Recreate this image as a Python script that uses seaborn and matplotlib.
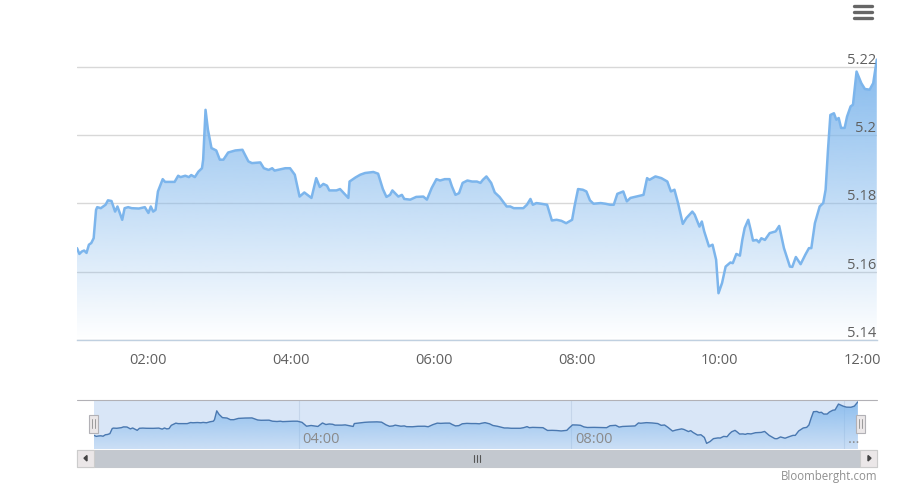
import numpy as np
import pandas as pd
import matplotlib
matplotlib.use("Agg")
import matplotlib.pyplot as plt
import matplotlib.transforms as mtransforms
from matplotlib.patches import Rectangle, Polygon
import seaborn as sns

# intraday quotes (time, price)
times = ["01:00", "01:02", "01:04", "01:06", "01:08", "01:10", "01:12", "01:14", "01:16", "01:17",
         "01:20", "01:24", "01:26", "01:29", "01:32", "01:34", "01:38", "01:40", "01:43", "01:46",
         "01:52", "01:57", "02:00", "02:02", "02:04", "02:06", "02:08", "02:12", "02:14", "02:22",
         "02:25", "02:27", "02:31", "02:34", "02:36", "02:39", "02:42", "02:45", "02:46", "02:48",
         "02:50", "02:53", "02:57", "03:00", "03:03", "03:07", "03:13", "03:19", "03:24", "03:27",
         "03:34", "03:37", "03:41", "03:44", "03:46", "03:51", "03:55", "03:59", "04:03", "04:07",
         "04:11", "04:17", "04:21", "04:24", "04:27", "04:30", "04:32", "04:38", "04:41", "04:48",
         "04:49", "04:54", "04:58", "05:02", "05:09", "05:13", "05:17", "05:20", "05:23", "05:25",
         "05:30", "05:33", "05:35", "05:40", "05:45", "05:51", "05:54", "05:58", "06:02", "06:05",
         "06:09", "06:13", "06:15", "06:18", "06:21", "06:24", "06:28", "06:32", "06:36", "06:39",
         "06:41", "06:44", "06:48", "06:51", "06:55", "07:01", "07:04", "07:07", "07:15", "07:18",
         "07:21", "07:23", "07:26", "07:30", "07:35", "07:39", "07:43", "07:47", "07:51", "07:56",
         "07:58", "08:01", "08:05", "08:08", "08:11", "08:14", "08:20", "08:24", "08:28", "08:31",
         "08:34", "08:39", "08:42", "08:45", "08:50", "08:56", "08:59", "09:01", "09:06", "09:11",
         "09:16", "09:19", "09:22", "09:25", "09:29", "09:32", "09:37", "09:39", "09:43", "09:45",
         "09:47", "09:51", "09:54", "09:57", "09:59", "10:02", "10:05", "10:09", "10:11", "10:14",
         "10:17", "10:19", "10:21", "10:24", "10:26", "10:28", "10:31", "10:33", "10:35", "10:38",
         "10:42", "10:47", "10:50", "10:54", "10:59", "11:01", "11:04", "11:08", "11:12", "11:15",
         "11:17", "11:20", "11:24", "11:27", "11:29", "11:31", "11:33", "11:36", "11:38", "11:40",
         "11:42", "11:45", "11:47", "11:50", "11:52", "11:55", "11:59", "12:02", "12:06", "12:09",
         "12:12"]
prices = [5.1669, 5.1652, 5.1659, 5.1662, 5.1655, 5.1679, 5.1684, 5.1698, 5.1781, 5.1789,
          5.1786, 5.1796, 5.1809, 5.1807, 5.1776, 5.1791, 5.1752, 5.1786, 5.1789, 5.1786,
          5.1785, 5.1789, 5.1772, 5.1791, 5.1776, 5.1781, 5.1835, 5.1871, 5.1863, 5.1863,
          5.1881, 5.1877, 5.1881, 5.1877, 5.1883, 5.1877, 5.1893, 5.1903, 5.1928, 5.2074,
          5.2016, 5.1962, 5.1955, 5.1928, 5.1928, 5.1949, 5.1955, 5.1957, 5.1923, 5.1918,
          5.1920, 5.1903, 5.1898, 5.1903, 5.1896, 5.1900, 5.1903, 5.1903, 5.1884, 5.1820,
          5.1832, 5.1816, 5.1874, 5.1848, 5.1857, 5.1852, 5.1838, 5.1838, 5.1842, 5.1816,
          5.1864, 5.1876, 5.1884, 5.1889, 5.1892, 5.1887, 5.1842, 5.1819, 5.1825, 5.1838,
          5.1820, 5.1825, 5.1813, 5.1811, 5.1819, 5.1820, 5.1811, 5.1845, 5.1871, 5.1867,
          5.1871, 5.1871, 5.1850, 5.1825, 5.1830, 5.1860, 5.1867, 5.1864, 5.1864, 5.1860,
          5.1869, 5.1879, 5.1860, 5.1832, 5.1819, 5.1791, 5.1791, 5.1786, 5.1786, 5.1796,
          5.1813, 5.1796, 5.1801, 5.1799, 5.1796, 5.1750, 5.1752, 5.1749, 5.1742, 5.1752,
          5.1791, 5.1842, 5.1840, 5.1835, 5.1809, 5.1799, 5.1801, 5.1799, 5.1796, 5.1796,
          5.1828, 5.1835, 5.1806, 5.1816, 5.1820, 5.1825, 5.1874, 5.1869, 5.1879, 5.1874,
          5.1864, 5.1835, 5.1840, 5.1801, 5.1740, 5.1757, 5.1776, 5.1767, 5.1732, 5.1747,
          5.1718, 5.1674, 5.1679, 5.1635, 5.1537, 5.1567, 5.1615, 5.1627, 5.1625, 5.1652,
          5.1647, 5.1693, 5.1728, 5.1752, 5.1723, 5.1691, 5.1693, 5.1686, 5.1698, 5.1693,
          5.1713, 5.1718, 5.1734, 5.1669, 5.1615, 5.1614, 5.1643, 5.1622, 5.1650, 5.1669,
          5.1669, 5.1742, 5.1791, 5.1801, 5.1840, 5.1957, 5.2059, 5.2064, 5.2045, 5.2050,
          5.2021, 5.2021, 5.2054, 5.2084, 5.2089, 5.2186, 5.2152, 5.2135, 5.2133, 5.2152,
          5.2221]

y_ticks = [5.14, 5.16, 5.18, 5.20, 5.22]
x_ticks = ["02:00", "04:00", "06:00", "08:00", "10:00", "12:00"]
nav_ticks = ["04:00", "08:00", "12:00"]
nav_labels = ["04:00", "08:00", "\u2026"]


def to_hours(s):
    h, m = s.split(":")
    return int(h) + int(m) / 60


df = pd.DataFrame({"hour": [to_hours(t) for t in times], "price": prices})

sns.set_style("white")
plt.rcParams["font.family"] = ["Open Sans", "DejaVu Sans"]

W, H = 898, 494
fig = plt.figure(figsize=(W / 100, H / 100), dpi=100)


def px_axes(x0, y0, x1, y1):
    return fig.add_axes([x0 / W, 1 - y1 / H, (x1 - x0) / W, (y1 - y0) / H])


def gradient_fill(axis, x, y, base, top, a_top, a_bottom, rgb=(124, 181, 236), z=1):
    grad = np.zeros((256, 1, 4))
    grad[..., :3] = np.array(rgb) / 255
    grad[:, 0, 3] = np.linspace(a_top, a_bottom, 256)
    x0, x1 = axis.get_xlim()
    im = axis.imshow(grad, extent=[x0, x1, base, top], origin="upper",
                     aspect="auto", zorder=z, interpolation="bilinear")
    poly = axis.fill_between(x, y, base, facecolor="none", edgecolor="none")
    im.set_clip_path(poly.get_paths()[0], transform=axis.transData)


x_min, x_max = 1.0, 12.203

# ---- main chart ----
ax = px_axes(77, 55, 877, 340)
y_bottom = 5.14
y_top = 5.14 + 285 * 0.02 / 68.3
ax.set_xlim(x_min, x_max)
ax.set_ylim(y_bottom, y_top)
gradient_fill(ax, df.hour, df.price, y_bottom, y_top, 0.95, 0.0)
sns.lineplot(data=df, x="hour", y="price", ax=ax, color="#7cb5ec", lw=1.8, zorder=3)
ax.set_xlim(x_min, x_max)
ax.set_ylim(y_bottom, y_top)
ax.set_xlabel("")
ax.set_ylabel("")

ax.set_yticks(y_ticks)
ax.yaxis.grid(True, color="#d8d8d8", lw=1)
ax.set_axisbelow(True)
ax.tick_params(axis="y", length=0, labelleft=False)
lbl_tr = mtransforms.offset_copy(ax.get_yaxis_transform(), fig=fig, x=-1, y=3, units="dots")
for v in y_ticks:
    ax.text(1.0, v, f"{v:g}", transform=lbl_tr, ha="right", va="baseline",
            fontsize=10.5, color="#606060")

ax.set_xticks([to_hours(t) for t in x_ticks])
ax.set_xticklabels(x_ticks)
ax.tick_params(axis="x", length=3.6, width=0.8, color="#c0d0e0", pad=5.5,
               labelsize=10.5, labelcolor="#606060")
for s in ["top", "left", "right"]:
    ax.spines[s].set_visible(False)
ax.spines["bottom"].set_color("#c0d0e0")
ax.spines["bottom"].set_linewidth(1)

# ---- navigator ----
nav = px_axes(94, 399.5, 858, 449.3)
nav.set_facecolor("#d9e6f7")
nav_lo = min(prices) - 0.0098
nav_hi = max(prices) + 0.004
nav.set_xlim(x_min, x_max)
nav.set_ylim(nav_lo, nav_hi)
for t in nav_ticks:
    nav.axvline(to_hours(t), color="#c5d5ea", lw=0.8, zorder=0.5)
gradient_fill(nav, df.hour, df.price, nav_lo, nav_hi, 0.85, 0.15, z=1)
sns.lineplot(data=df, x="hour", y="price", ax=nav, color="#4a78b0", lw=1.0, zorder=3)
nav.set_xlim(x_min, x_max)
nav.set_ylim(nav_lo, nav_hi)
nav.set_xlabel("")
nav.set_ylabel("")
nav.set_xticks([])
nav.set_yticks([])
for s in nav.spines.values():
    s.set_visible(False)
nav_tr = mtransforms.offset_copy(nav.get_xaxis_transform(), fig=fig, x=4, y=2, units="dots")
for t, lab in zip(nav_ticks, nav_labels):
    nav.text(to_hours(t), 0, lab, transform=nav_tr, ha="left", va="bottom",
             fontsize=10.5, color="#8a8a8a")

# ---- overlay: navigator outline, handles, scrollbar, menu, credit ----
ov = fig.add_axes([0, 0, 1, 1], zorder=10)
ov.set_xlim(0, W)
ov.set_ylim(H, 0)
ov.axis("off")
ov.patch.set_alpha(0)

ov.plot([77, 877], [399.5, 399.5], color="#b2b1b6", lw=0.8)

for cx in (93.5, 860):
    ov.add_patch(Rectangle((cx - 4.5, 414.5), 9, 18.5, facecolor="#ebe7e8",
                           edgecolor="#b2b1b6", lw=0.8))
    for dx in (-1.5, 1.5):
        ov.plot([cx + dx, cx + dx], [419, 428], color="#9a9a9a", lw=0.7)

ov.add_patch(Rectangle((77, 449.5), 800, 17.5, facecolor="#eeeeee", edgecolor="#cccccc", lw=0.8))
ov.add_patch(Rectangle((94, 449.5), 766, 17.5, facecolor="#c3c8cf", edgecolor="#c3c8cf", lw=0.5))
for bx in (77, 860):
    ov.add_patch(Rectangle((bx, 449.5), 17, 17.5, facecolor="#ebe7e8", edgecolor="#cccccc", lw=0.8))
ov.add_patch(Polygon([[84, 458.2], [87, 455.5], [87, 461]], closed=True, color="#444444"))
ov.add_patch(Polygon([[871, 458.2], [868, 455.5], [868, 461]], closed=True, color="#444444"))
for gx in (473.5, 476.5, 479.5):
    ov.plot([gx, gx], [455, 461.5], color="#555555", lw=0.8)

for my in (6.5, 12.5, 18.5):
    ov.plot([854, 872], [my, my], color="#666666", lw=2.4, solid_capstyle="round")

ov.text(877, 476, "Bloomberght.com", ha="right", va="center", fontsize=8.3, color="#909090")

fig.savefig("out.png", dpi=100)
